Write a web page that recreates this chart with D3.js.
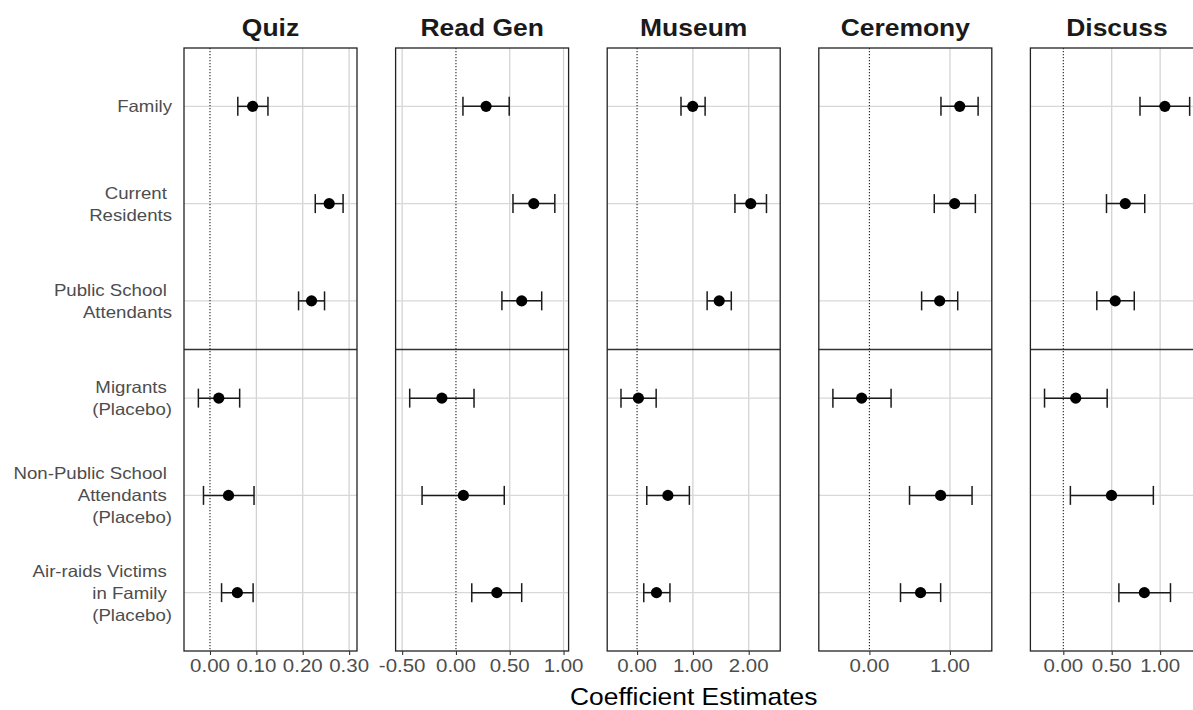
<!DOCTYPE html>
<html>
<head>
<meta charset="utf-8">
<script src="https://cdn.jsdelivr.net/npm/d3@7"></script>
<style>
  html, body { margin: 0; padding: 0; background: #fff; }
  svg { display: block; }
  text { font-family: "Liberation Sans", Arial, Helvetica, sans-serif; white-space: pre; }
</style>
</head>
<body>
<svg id="chart" width="1193" height="710"></svg>
<script>
// ---------------- DATA ----------------
const categories = [
  "Family",
  "Current Residents",
  "Public School Attendants",
  "Migrants (Placebo)",
  "Non-Public School Attendants (Placebo)",
  "Air-raids Victims in Family (Placebo)"
];
const categoryLines = [
  ["Family"],
  ["Current ", "Residents"],
  ["Public School ", "Attendants"],
  ["Migrants ", "(Placebo)"],
  ["Non-Public School ", "Attendants ", "(Placebo)"],
  ["Air-raids Victims ", "in Family ", "(Placebo)"]
];
const panels = ["Quiz", "Read Gen", "Museum", "Ceremony", "Discuss"];

// estimates and 95% CI, one array per panel, in category order
const quizEst  = [0.092, 0.257, 0.219, 0.019, 0.040, 0.059];
const quizLo   = [0.060, 0.227, 0.191, -0.025, -0.014, 0.025];
const quizHi   = [0.125, 0.287, 0.247, 0.064, 0.095, 0.093];

const readEst  = [0.280, 0.723, 0.611, -0.131, 0.069, 0.380];
const readLo   = [0.065, 0.530, 0.427, -0.430, -0.315, 0.147];
const readHi   = [0.495, 0.919, 0.797, 0.168, 0.449, 0.611];

const museumEst = [0.997, 2.036, 1.471, 0.024, 0.552, 0.348];
const museumLo  = [0.787, 1.753, 1.255, -0.288, 0.174, 0.120];
const museumHi  = [1.219, 2.318, 1.688, 0.342, 0.937, 0.589];

const ceremonyEst = [1.121, 1.058, 0.872, -0.096, 0.884, 0.635];
const ceremonyLo  = [0.888, 0.805, 0.648, -0.453, 0.498, 0.386];
const ceremonyHi  = [1.349, 1.315, 1.096, 0.269, 1.274, 0.884];

const discussEst = [1.049, 0.640, 0.536, 0.128, 0.498, 0.837];
const discussLo  = [0.792, 0.446, 0.346, -0.194, 0.073, 0.574];
const discussHi  = [1.305, 0.841, 0.733, 0.453, 0.930, 1.107];

// x-axis domains and tick values per panel
const xDomains = [[-0.056, 0.317], [-0.561, 1.047], [-0.535, 2.564], [-0.628, 1.519], [-0.34, 1.447]];
const xTicks = [[0, 0.1, 0.2, 0.3], [-0.5, 0, 0.5, 1.0], [0, 1, 2], [0, 1], [0, 0.5, 1.0]];
const xTickLabels = [
  ["0.00", "0.10", "0.20", "0.30"],
  ["-0.50", "0.00", "0.50", "1.00"],
  ["0.00", "1.00", "2.00"],
  ["0.00", "1.00"],
  ["0.00", "0.50", "1.00"]
];
const xTitle = "Coefficient Estimates";

const estimates = [quizEst, readEst, museumEst, ceremonyEst, discussEst];
const lows = [quizLo, readLo, museumLo, ceremonyLo, discussLo];
const highs = [quizHi, readHi, museumHi, ceremonyHi, discussHi];

// ---------------- LAYOUT ----------------
const svg = d3.select("#chart");
const panelLeft0 = 184, panelW = 173, panelGap = 38.6;
const plotTop = 48, plotBottom = 651;

const y = d3.scalePoint().domain(categories).range([plotTop, plotBottom]).padding(0.6);

function stretchedText(sel, x, yy, str, sx) {
  return sel.append("text")
    .attr("transform", `translate(${x},${yy}) scale(${sx},1)`)
    .text(str);
}

// y-axis labels
categories.forEach((c, i) => {
  const lines = categoryLines[i];
  const lh = 22;
  const cy = y(c);
  const startY = cy - (lines.length - 1) * lh / 2 + 6;
  lines.forEach((ln, j) => {
    stretchedText(svg, 172, startY + j * lh, ln, 1.13)
      .attr("text-anchor", "end")
      .attr("font-size", 16.5)
      .attr("fill", "#4d4d4d");
  });
});

panels.forEach((p, k) => {
  const x0 = panelLeft0 + k * (panelW + panelGap);
  const x = d3.scaleLinear().domain(xDomains[k]).range([x0, x0 + panelW]);
  const g = svg.append("g");

  // vertical gridlines
  g.selectAll("line.vg").data(xTicks[k].filter(t => t !== 0)).enter().append("line")
    .attr("x1", d => x(d)).attr("x2", d => x(d))
    .attr("y1", plotTop).attr("y2", plotBottom)
    .attr("stroke", "#d0d0d0").attr("stroke-width", 1.2);

  // horizontal gridlines
  g.selectAll("line.hg").data(categories).enter().append("line")
    .attr("x1", x0).attr("x2", x0 + panelW)
    .attr("y1", d => y(d)).attr("y2", d => y(d))
    .attr("stroke", "#d8d8d8").attr("stroke-width", 1.2);

  // zero reference line
  g.append("line")
    .attr("x1", x(0)).attr("x2", x(0))
    .attr("y1", plotTop).attr("y2", plotBottom)
    .attr("stroke", "#222").attr("stroke-width", 1.1)
    .attr("stroke-dasharray", "1.2,1.8");

  // separator between groups
  const midY = (y(categories[2]) + y(categories[3])) / 2;
  g.append("line")
    .attr("x1", x0).attr("x2", x0 + panelW)
    .attr("y1", midY).attr("y2", midY)
    .attr("stroke", "#333").attr("stroke-width", 1.3);

  // error bars
  const rows = categories.map((c, i) => ({ c, est: estimates[k][i], lo: lows[k][i], hi: highs[k][i] }));
  const eb = g.selectAll("g.eb").data(rows).enter().append("g");
  eb.append("line")
    .attr("x1", d => x(d.lo)).attr("x2", d => x(d.hi))
    .attr("y1", d => y(d.c)).attr("y2", d => y(d.c))
    .attr("stroke", "#1a1a1a").attr("stroke-width", 1.5);
  eb.append("line")
    .attr("x1", d => x(d.lo)).attr("x2", d => x(d.lo))
    .attr("y1", d => y(d.c) - 9.5).attr("y2", d => y(d.c) + 9.5)
    .attr("stroke", "#1a1a1a").attr("stroke-width", 1.5);
  eb.append("line")
    .attr("x1", d => x(d.hi)).attr("x2", d => x(d.hi))
    .attr("y1", d => y(d.c) - 9.5).attr("y2", d => y(d.c) + 9.5)
    .attr("stroke", "#1a1a1a").attr("stroke-width", 1.5);
  eb.append("circle")
    .attr("cx", d => x(d.est)).attr("cy", d => y(d.c))
    .attr("r", 5.6).attr("fill", "#000");

  // panel border
  g.append("rect")
    .attr("x", x0).attr("y", plotTop).attr("width", panelW).attr("height", plotBottom - plotTop)
    .attr("fill", "none").attr("stroke", "#222").attr("stroke-width", 1.3);

  // x axis ticks
  const axis = d3.axisBottom(x).tickValues(xTicks[k]).tickSize(4).tickPadding(3)
    .tickFormat((d, i) => xTickLabels[k][i]);
  const ax = g.append("g").attr("transform", `translate(0,${plotBottom})`).call(axis);
  ax.select(".domain").remove();
  ax.selectAll(".tick line").attr("stroke", "#333").attr("stroke-width", 1.1);
  ax.selectAll(".tick text").remove();
  xTicks[k].forEach((t, i) => {
    stretchedText(g, x(t), 672, xTickLabels[k][i], 1.17)
      .attr("text-anchor", "middle")
      .attr("font-size", 17.5)
      .attr("fill", "#4d4d4d");
  });

  // panel title
  stretchedText(g, x0 + panelW / 2, 36, p, 1.15)
    .attr("text-anchor", "middle")
    .attr("font-size", 23)
    .attr("font-weight", "bold")
    .attr("fill", "#1a1a1a");
});

// x-axis title
const lastRight = panelLeft0 + 4 * (panelW + panelGap) + panelW;
stretchedText(svg, (panelLeft0 + lastRight) / 2, 705, xTitle, 1.1)
  .attr("text-anchor", "middle")
  .attr("font-size", 24)
  .attr("fill", "#000");
</script>
</body>
</html>
